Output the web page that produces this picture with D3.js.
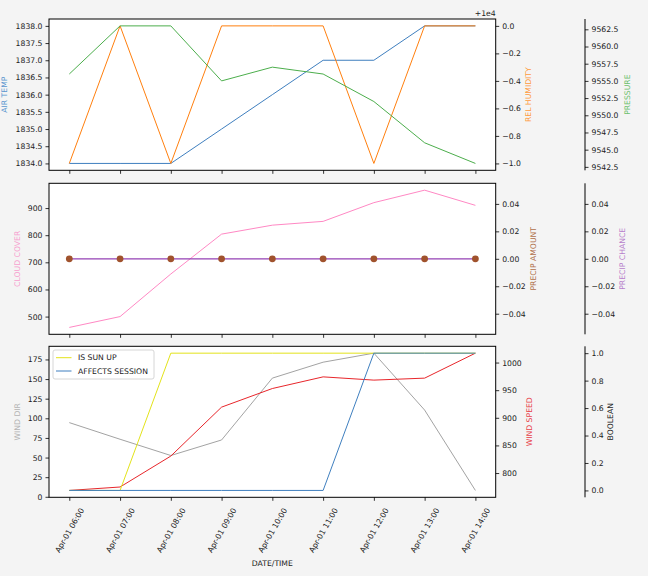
<!DOCTYPE html>
<html><head><meta charset="utf-8">
<script src="https://cdn.jsdelivr.net/npm/d3@7"></script>
<style>
body{margin:0;background:#f4f4f4;}
svg{display:block;}
text{font-family:"DejaVu Sans",sans-serif;}
</style>
</head><body>
<svg id="c" width="648" height="576"></svg>
<script>
// ---------- data ----------
const times = ["2024-04-01T06:00","2024-04-01T07:00","2024-04-01T08:00","2024-04-01T09:00","2024-04-01T10:00","2024-04-01T11:00","2024-04-01T12:00","2024-04-01T13:00","2024-04-01T14:00"];
const airTemp = [1834,1834,1834,1835,1836,1837,1837,1838,1838];
const relHumidity = [9999,10000,9999,10000,10000,10000,9999,10000,10000];
const pressure = [9556,9563,9563,9555,9557,9556,9552,9546,9543];
const cloudCover = [460,500,657,804,837,851,920,966,910];
const precipAmount = [0,0,0,0,0,0,0,0,0];
const precipChance = [0,0,0,0,0,0,0,0,0];
const windDir = [94.5,73.3,52.6,72.4,151.2,171.5,183,110.5,8.1];
const windSpeed = [768.5,774.7,830.7,919.3,953,974.1,968.2,971.8,1017];
const isSunUp = [0,0,1,1,1,1,1,1,1];
const affectsSession = [0,0,0,0,0,0,1,1,1];

const airTempTicks = [1834,1834.5,1835,1835.5,1836,1836.5,1837,1837.5,1838];
const humidityTicks = [9999,9999.2,9999.4,9999.6,9999.8,10000];
const pressureTicks = [9542.5,9545,9547.5,9550,9552.5,9555,9557.5,9560,9562.5];
const cloudTicks = [500,600,700,800,900];
const precipTicks = [-0.04,-0.02,0,0.02,0.04];
const windDirTicks = [0,25,50,75,100,125,150,175];
const windSpeedTicks = [800,850,900,950,1000];
const boolTicks = [0,0.2,0.4,0.6,0.8,1.0];

// ---------- layout ----------
const svg = d3.select("#c");
const X0 = 49, X1 = 495.7, SPINE = 585;
const panels = [{t:19,b:170.3},{t:183.3,b:334.3},{t:346.3,b:497.3}];
const parse = d3.timeParse("%Y-%m-%dT%H:%M");
const dates = times.map(parse);
const tExt = d3.extent(dates);
const span = tExt[1]-tExt[0];
const x = d3.scaleTime().domain([new Date(+tExt[0]-0.05*span), new Date(+tExt[1]+0.05*span)]).range([X0,X1]);
const FS = "7.7px";
const minus = s => s.replace("-","\u2212");

function padDomain(vals){
  let a = d3.min(vals), b = d3.max(vals);
  if (a===b){ if (a===0){a=-0.05;b=0.05;} else {a-=Math.abs(a)*0.05;b+=Math.abs(b)*0.05;} }
  const m=(b-a)*0.05; return [a-m,b+m];
}
function yScale(vals,p){ return d3.scaleLinear().domain(padDomain(vals)).range([p.b,p.t]); }

function styleAxis(g, keepDomain){
  if(!keepDomain) g.select(".domain").remove();
  else g.select(".domain").attr("stroke","#000").attr("stroke-width",1);
  g.selectAll(".tick line").attr("stroke","#000").attr("stroke-width",0.8);
  g.selectAll(".tick text").attr("font-size",FS).attr("fill","#222").attr("font-family","DejaVu Sans");
}
function leftAxis(s,ticks,fmt){
  const g=svg.append("g").attr("transform",`translate(${X0},0)`)
    .call(d3.axisLeft(s).tickValues(ticks).tickFormat(fmt).tickSize(3.5).tickPadding(3));
  styleAxis(g,false);
}
function rightAxis(s,ticks,fmt,xpos,keep,p){
  const g=svg.append("g").attr("transform",`translate(${xpos},0)`)
    .call(d3.axisRight(s).tickValues(ticks).tickFormat(fmt).tickSize(3.5).tickPadding(3).tickSizeOuter(0));
  styleAxis(g,keep);
  if(keep){ g.select(".domain").attr("d",`M0,${p.t}V${p.b}`); }
}
function axisLabel(txt,cx,cy,color){
  svg.append("text").attr("transform",`translate(${cx},${cy}) rotate(-90)`)
    .attr("text-anchor","middle").attr("dominant-baseline","central")
    .attr("font-size",FS).attr("fill",color).text(txt);
}
function line(s,vals,color,w){
  svg.append("path").datum(vals).attr("fill","none").attr("stroke",color).attr("stroke-width",w||1)
    .attr("d",d3.line().x((d,i)=>x(dates[i])).y(d=>s(d)));
}
function panelBg(p){
  svg.append("rect").attr("x",X0).attr("y",p.t).attr("width",X1-X0).attr("height",p.b-p.t).attr("fill","#fff");
}
function panelBox(p){
  svg.append("rect").attr("x",X0).attr("y",p.t).attr("width",X1-X0).attr("height",p.b-p.t)
    .attr("fill","none").attr("stroke","#000").attr("stroke-width",1);
}
function xAxis(p,labels){
  const g=svg.append("g").attr("transform",`translate(0,${p.b})`)
    .call(d3.axisBottom(x).tickValues(dates).tickFormat(labels?d3.timeFormat("%b-%d %H:%M"):"").tickSize(3.5));
  styleAxis(g,false);
  if(labels){
    g.selectAll(".tick text").attr("y",0).attr("dy",null).attr("text-anchor","middle")
      .attr("dominant-baseline","central").attr("transform","translate(0,33) rotate(-60)");
  }
}

// ---------- panel 1 ----------
{
  const p=panels[0];
  panelBg(p);
  const yT=yScale(airTemp,p), yH=yScale(relHumidity,p), yP=yScale(pressure,p);
  line(yT,airTemp,"#3f7fbf");
  line(yH,relHumidity,"#ff7f0e");
  line(yP,pressure,"#4cae4c");
  panelBox(p);
  xAxis(p,false);
  leftAxis(yT,airTempTicks,d=>d.toFixed(1));
  rightAxis(yH,humidityTicks,d=>minus((d-10000).toFixed(1)).replace("\u22120.0","0.0"),X1,false,p);
  rightAxis(yP,pressureTicks,d=>d.toFixed(1),SPINE,true,p);
  svg.append("text").attr("x",X1).attr("y",16).attr("text-anchor","end").attr("font-size",FS).attr("fill","#222").text("+1e4");
  axisLabel("AIR TEMP",4,(p.t+p.b)/2,"#5b96cf");
  axisLabel("REL HUMIDITY",528,(p.t+p.b)/2,"#ff9a3c");
  axisLabel("PRESSURE",627,(p.t+p.b)/2,"#6cc06c");
}
// ---------- panel 2 ----------
{
  const p=panels[1];
  panelBg(p);
  const yC=yScale(cloudCover,p), yA=yScale(precipAmount,p), yCh=yScale(precipChance,p);
  line(yC,cloudCover,"#ff88c4");
  line(yCh,precipChance,"#9440b4",1.2);
  svg.append("g").selectAll("circle").data(precipAmount).join("circle")
    .attr("cx",(d,i)=>x(dates[i])).attr("cy",d=>yA(d)).attr("r",3.4).attr("fill","#a0522d");
  panelBox(p);
  xAxis(p,false);
  leftAxis(yC,cloudTicks,d=>d.toFixed(0));
  rightAxis(yA,precipTicks,d=>minus(d.toFixed(2)),X1,false,p);
  rightAxis(yCh,precipTicks,d=>minus(d.toFixed(2)),SPINE,true,p);
  axisLabel("CLOUD COVER",17,(p.t+p.b)/2,"#f7a0cf");
  axisLabel("PRECIP AMOUNT",533,(p.t+p.b)/2,"#b0704a");
  axisLabel("PRECIP CHANCE",622,(p.t+p.b)/2,"#b77fcb");
}
// ---------- panel 3 ----------
{
  const p=panels[2];
  panelBg(p);
  const yD=yScale(windDir,p), yS=yScale(windSpeed,p), yB=yScale([0,1],p);
  line(yD,windDir,"#a3a3a3");
  line(yS,windSpeed,"#e8262b");
  line(yB,isSunUp,"#e3e31a");
  line(yB,affectsSession,"#3f7fbf");
  panelBox(p);
  xAxis(p,true);
  leftAxis(yD,windDirTicks,d=>d.toFixed(0));
  rightAxis(yS,windSpeedTicks,d=>d.toFixed(0),X1,false,p);
  rightAxis(yB,boolTicks,d=>d.toFixed(1),SPINE,true,p);
  axisLabel("WIND DIR",17,(p.t+p.b)/2,"#b3b3b3");
  axisLabel("WIND SPEED",529,(p.t+p.b)/2,"#e8414a");
  axisLabel("BOOLEAN",610.5,(p.t+p.b)/2,"#222");
  // legend
  const lg=svg.append("g");
  lg.append("rect").attr("x",53).attr("y",350).attr("width",101).attr("height",29).attr("rx",2)
    .attr("fill","#fff").attr("fill-opacity",0.9).attr("stroke","#cccccc").attr("stroke-width",0.8);
  const items=[["IS SUN UP","#e3e31a"],["AFFECTS SESSION","#3f7fbf"]];
  items.forEach((it,i)=>{
    const yy=357.7+i*13.3;
    lg.append("line").attr("x1",56).attr("x2",71.5).attr("y1",yy).attr("y2",yy).attr("stroke",it[1]).attr("stroke-width",1);
    lg.append("text").attr("x",78).attr("y",yy).attr("dominant-baseline","central").attr("font-size",FS).attr("fill","#222").text(it[0]);
  });
}
svg.append("text").attr("x",(X0+X1)/2).attr("y",566).attr("text-anchor","middle").attr("font-size",FS).attr("fill","#222").text("DATE/TIME");
</script>
</body></html>
